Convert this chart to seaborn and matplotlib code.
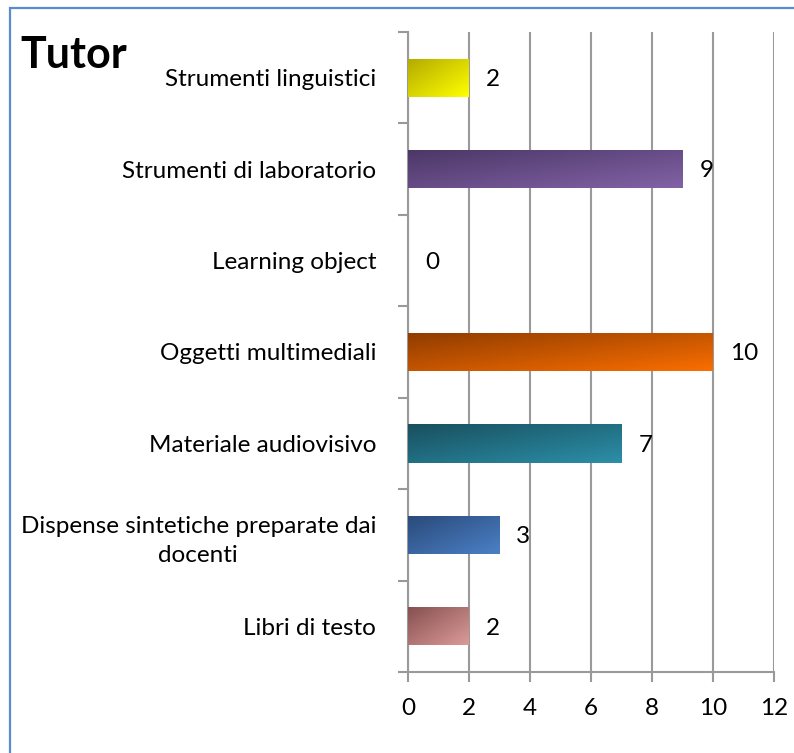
import numpy as np
import pandas as pd
import matplotlib
matplotlib.use("Agg")
import matplotlib.pyplot as plt
import matplotlib.patches as mpatches
from matplotlib.colors import LinearSegmentedColormap
import seaborn as sns

# ── data ─────────────────────────────────────────────────────────────────────
categories = [
    "Strumenti linguistici",
    "Strumenti di laboratorio",
    "Learning object",
    "Oggetti multimediali",
    "Materiale audiovisivo",
    "Dispense sintetiche preparate dai\ndocenti",
    "Libri di testo",
]
values = [2, 9, 0, 10, 7, 3, 2]

# gradient (dark -> light) per bar, same order as categories
bar_cols = [
    ("#b3aa00", "#ffff00"),
    ("#4b3766", "#8262a6"),
    ("#ffffff", "#ffffff"),
    ("#8f3c00", "#fa6e00"),
    ("#18505f", "#2c8fa8"),
    ("#2a4a7a", "#4b80c6"),
    ("#855050", "#dc9a98"),
]

sns.set_theme(style="white")
plt.rcParams.update({
    "font.family": ["Lato", "DejaVu Sans"],
    "text.color": "black",
    "xtick.color": "#999999",
    "ytick.color": "#999999",
    "xtick.labelcolor": "black",
    "ytick.labelcolor": "black",
})

FS = 17.5
df = pd.DataFrame({"categoria": categories, "valore": values})

fig = plt.figure(figsize=(7.94, 7.53), dpi=100)
ax = fig.add_axes([408 / 794, 1 - 672 / 753, 366 / 794, 640 / 753])

sns.barplot(data=df, x="valore", y="categoria", orient="h", ax=ax,
            width=0.42, color="#888888", saturation=1)

# gradient fill on each bar
yy, xx = np.mgrid[0:1:64j, 0:1:64j]
z = (xx + yy) / 2
for patch, (c0, c1) in zip(ax.patches, bar_cols):
    w = patch.get_width()
    if w <= 0:
        patch.set_visible(False)
        continue
    x0, y0 = patch.get_x(), patch.get_y()
    h = patch.get_height()
    cmap = LinearSegmentedColormap.from_list("g", [c0, c1])
    im = ax.imshow(z, cmap=cmap, extent=[x0, x0 + w, y0 + h, y0],
                   aspect="auto", interpolation="bicubic", zorder=3)
    im.set_clip_path(patch)
    patch.set_facecolor("none")
    patch.set_edgecolor("none")

ax.set_xlim(0, 12)
ax.set_ylim(len(categories) - 0.5, -0.5)

# value labels
for i, v in enumerate(values):
    ax.text(v + 0.55, i + 0.02, str(v), va="center", ha="left", fontsize=FS, color="black")

# axes styling
ax.set_xticks(range(0, 13, 2))
ax.xaxis.grid(True, color="#9a9a9a", linewidth=1.5)
ax.set_axisbelow(True)
ax.set_xlabel("")
ax.set_ylabel("")
for s in ["top", "right"]:
    ax.spines[s].set_visible(False)
for s in ["left", "bottom"]:
    ax.spines[s].set_color("#9a9a9a")
    ax.spines[s].set_linewidth(1.5)

ax.tick_params(axis="x", which="major", direction="out", length=7, width=1.5,
               labelsize=FS, pad=12, bottom=True)
ax.tick_params(axis="y", which="major", length=0, labelsize=FS, pad=23)
ax.set_yticks(np.arange(-0.5, len(categories)), minor=True)
ax.tick_params(axis="y", which="minor", direction="out", length=7, width=1.5, left=True)
for lab in ax.get_yticklabels():
    lab.set_multialignment("center")
    lab.set_linespacing(1.5)

# title and frame
fig.text(20 / 794, 1 - 68 / 753, "Tutor", fontsize=31, fontweight="bold",
         ha="left", va="baseline")
fig.patches.append(mpatches.Rectangle((10 / 794, -0.05), 1.2, 1 - 8 / 753 + 0.05,
                                      transform=fig.transFigure, fill=False,
                                      edgecolor="#5a8ad0", linewidth=1.6))

fig.savefig("out.png", dpi=100, facecolor="white")
